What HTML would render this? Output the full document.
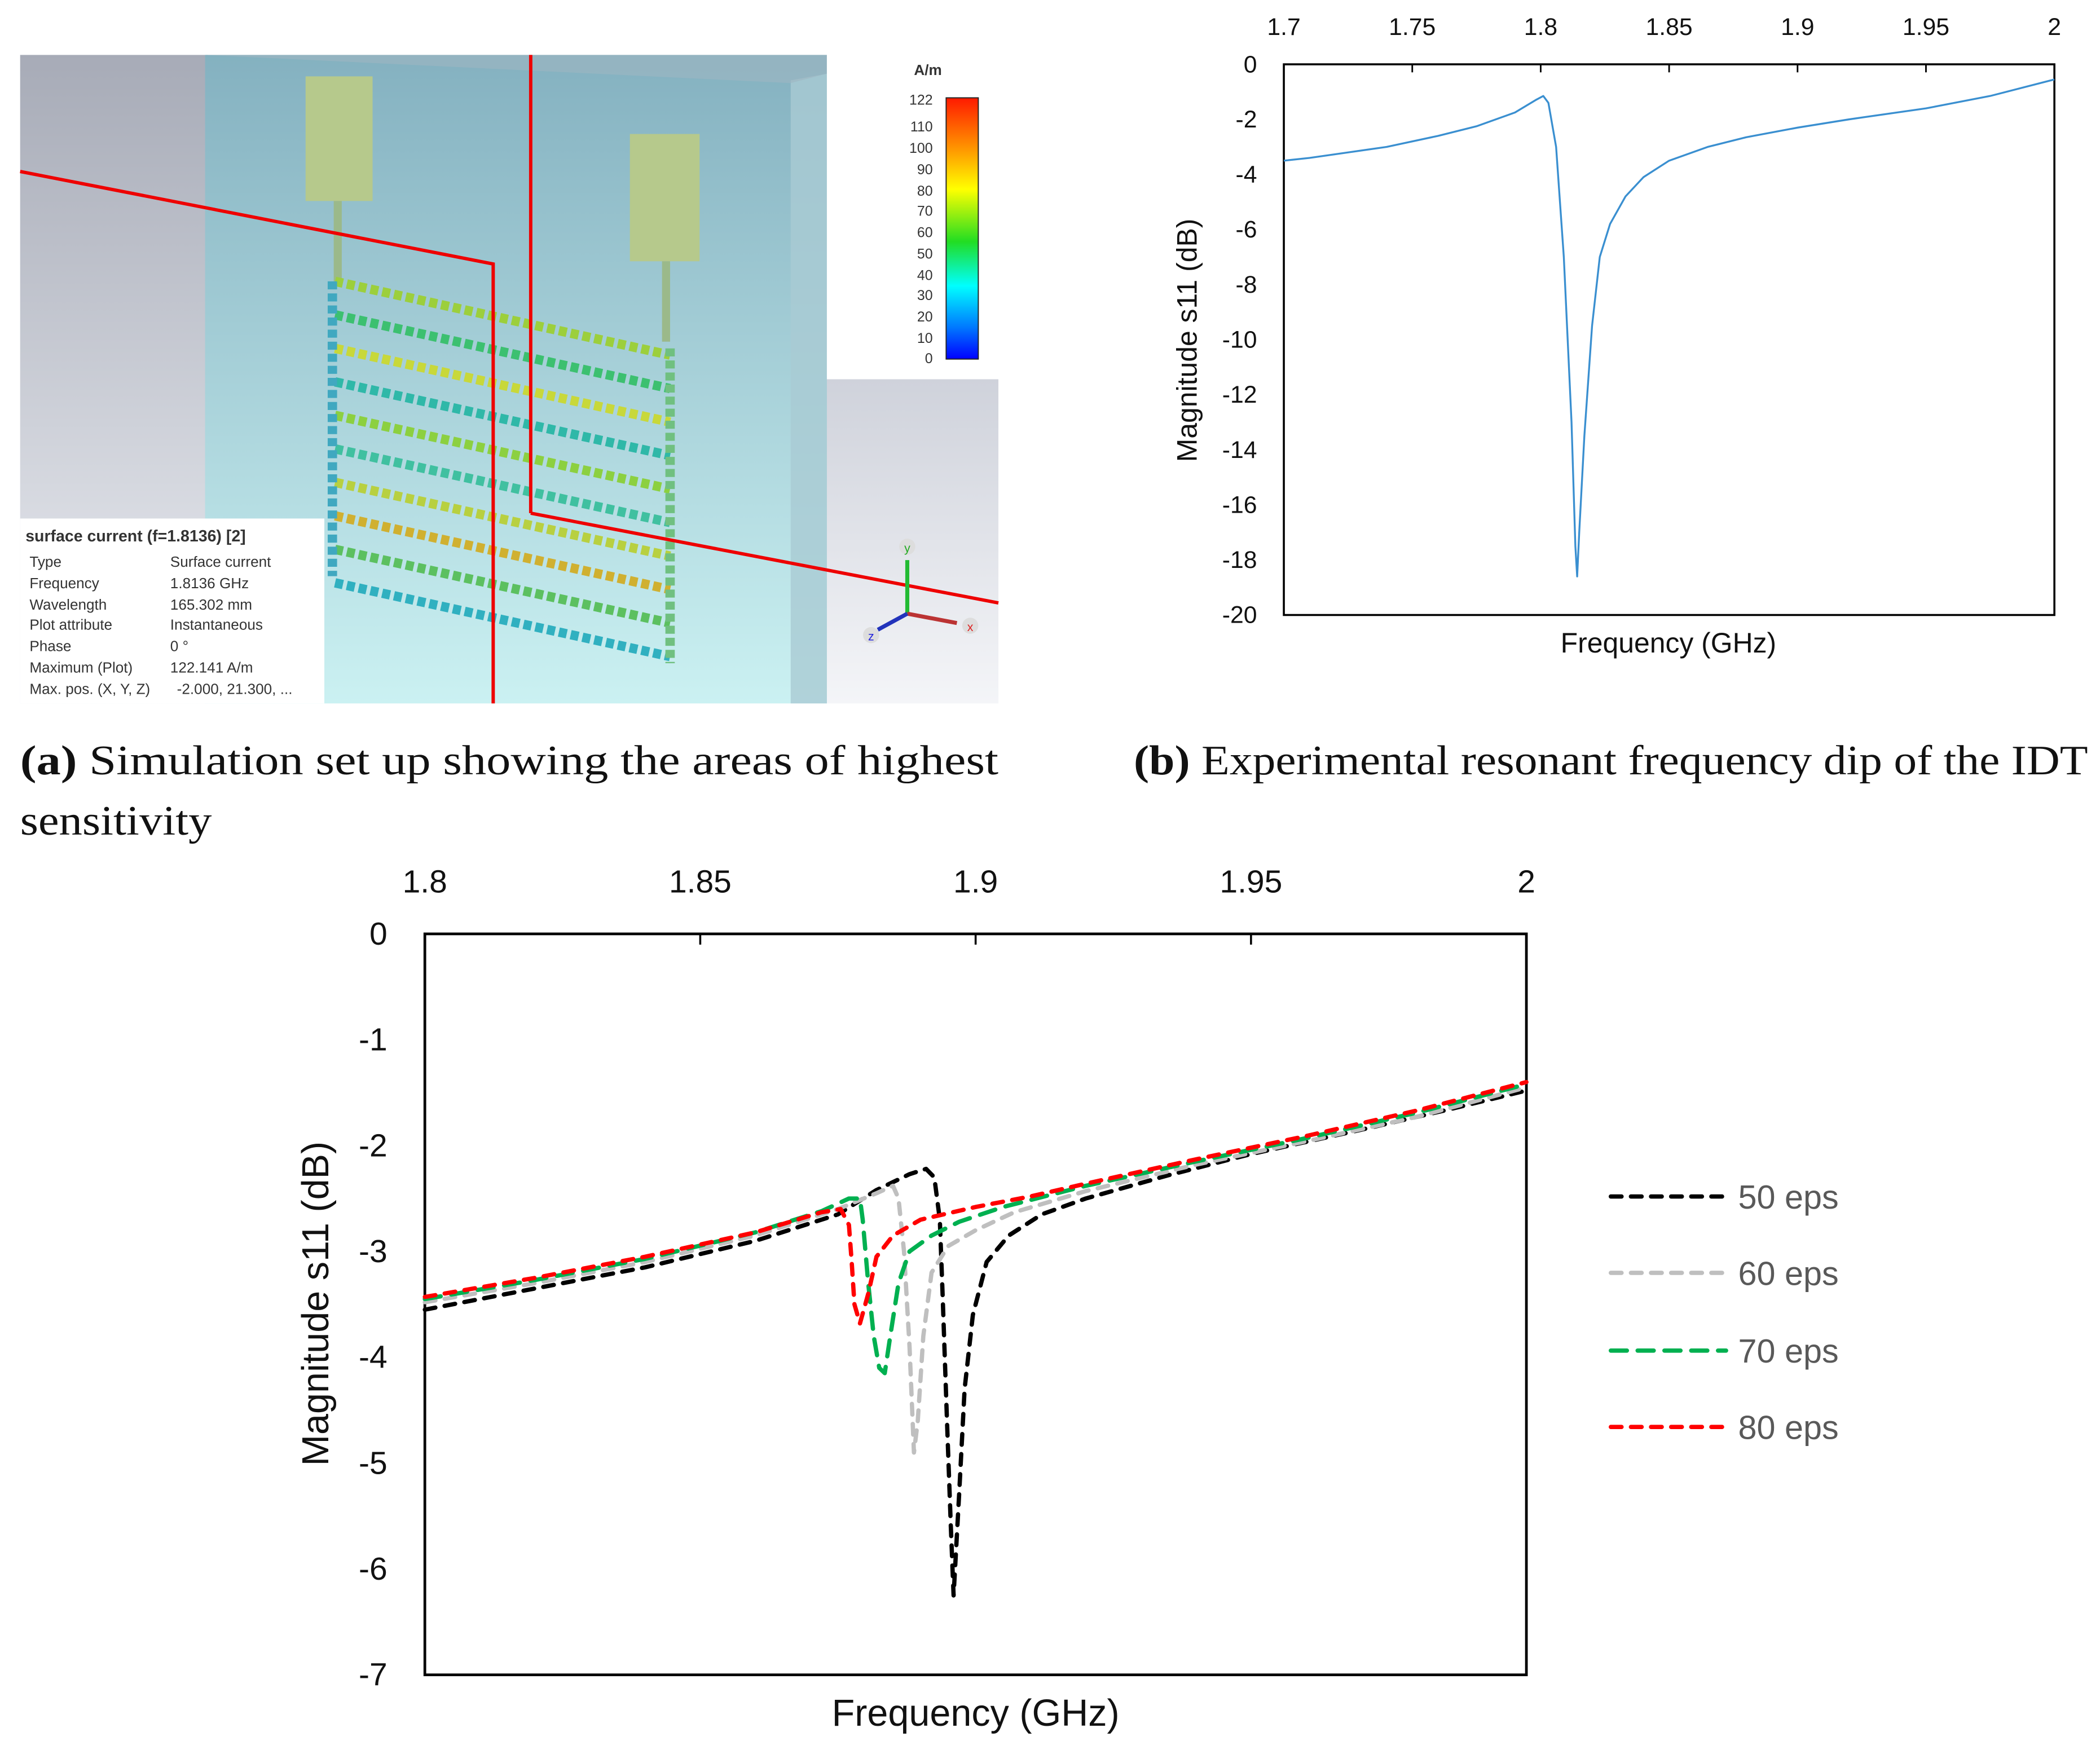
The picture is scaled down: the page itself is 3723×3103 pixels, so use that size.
<!DOCTYPE html>
<html><head><meta charset="utf-8"><style>
html,body{margin:0;padding:0;background:#fff;}
svg{display:block;}
text{font-family:"Liberation Sans",sans-serif;}
.serif{font-family:"Liberation Serif",serif;}
</style></head><body>
<svg id="fig" width="3723" height="3103" viewBox="0 0 1567 1306.1" xmlns="http://www.w3.org/2000/svg">
<defs>
<linearGradient id="gGrey" x1="0" y1="0" x2="0" y2="1"><stop offset="0" stop-color="#a7abb7"/><stop offset="1" stop-color="#eceef3"/></linearGradient>
<linearGradient id="gTeal" x1="0" y1="0" x2="0" y2="1"><stop offset="0" stop-color="#84b1c0"/><stop offset="1" stop-color="#cbf1f2"/></linearGradient>
<linearGradient id="gGrey2" x1="0" y1="0" x2="0" y2="1"><stop offset="0" stop-color="#cfd2db"/><stop offset="1" stop-color="#f4f5f8"/></linearGradient>
<linearGradient id="gBar" x1="0" y1="0" x2="0" y2="1"><stop offset="0" stop-color="#ff1a00"/><stop offset="0.2" stop-color="#ff9900"/><stop offset="0.35" stop-color="#ffff00"/><stop offset="0.55" stop-color="#22dd22"/><stop offset="0.72" stop-color="#00ffff"/><stop offset="0.88" stop-color="#0077ff"/><stop offset="1" stop-color="#0000ff"/></linearGradient>
</defs>

<g>
<rect x="15" y="41" width="140" height="484" fill="url(#gGrey)"/>
<rect x="617" y="283" width="128" height="242" fill="url(#gGrey2)"/>
<rect x="153" y="41" width="464" height="484" fill="url(#gTeal)"/>
<polygon points="590,60 617,55 617,525 590,525" fill="#a9cbd3" opacity="0.8"/>
<polygon points="153,41 617,41 617,55 590,62" fill="#9fb6c2" opacity="0.6"/>
<rect x="228" y="57" width="50" height="93" fill="#b6c98c"/>
<rect x="470" y="100" width="52" height="95" fill="#b6c98c"/>
<rect x="249" y="150" width="6" height="60" fill="#9bb98a"/>
<rect x="494" y="195" width="6" height="60" fill="#9bb98a"/>
<g stroke-width="7" fill="none" stroke-dasharray="6 3">
<path d="M250 210 L500 265" stroke="#9ccf3c"/>
<path d="M250 235 L500 290" stroke="#3cc070"/>
<path d="M250 260 L500 315" stroke="#c8d83a"/>
<path d="M250 285 L500 340" stroke="#2fb8a8"/>
<path d="M250 310 L500 365" stroke="#8cd040"/>
<path d="M250 335 L500 390" stroke="#40c0a0"/>
<path d="M250 360 L500 415" stroke="#b8d040"/>
<path d="M250 385 L500 440" stroke="#d0b030"/>
<path d="M250 410 L500 465" stroke="#5cc060"/>
<path d="M250 435 L500 490" stroke="#30b0c0"/>
<path d="M248 210 L248 430" stroke="#40a8c0"/>
<path d="M500 260 L500 495" stroke="#70c080"/>
</g>
<path d="M15 128 L368 197 L368 525" stroke="#ee0000" stroke-width="2.5" fill="none"/>
<path d="M396 41 L396 383" stroke="#ee0000" stroke-width="2.5"/>
<path d="M396 383 L745 450" stroke="#ee0000" stroke-width="2.5"/>
<rect x="617" y="41" width="128" height="242" fill="#fff"/>
<rect x="706" y="73" width="24" height="195" fill="url(#gBar)" stroke="#222" stroke-width="0.8"/>
<text x="682" y="56" font-size="11" fill="#333" font-weight="bold">A/m</text>
<g font-size="10.5" fill="#333" text-anchor="end">
<text x="696" y="78">122</text><text x="696" y="98">110</text><text x="696" y="114">100</text><text x="696" y="130">90</text><text x="696" y="146">80</text><text x="696" y="161">70</text><text x="696" y="177">60</text><text x="696" y="193">50</text><text x="696" y="209">40</text><text x="696" y="224">30</text><text x="696" y="240">20</text><text x="696" y="256">10</text><text x="696" y="271">0</text>
</g>
<rect x="15" y="387" width="227" height="138" fill="#fff"/>
<g font-size="11" fill="#333">
<text x="19" y="404" font-weight="bold" font-size="12">surface current (f=1.8136) [2]</text>
<text x="22" y="423">Type</text><text x="127" y="423">Surface current</text>
<text x="22" y="439">Frequency</text><text x="127" y="439">1.8136 GHz</text>
<text x="22" y="455">Wavelength</text><text x="127" y="455">165.302 mm</text>
<text x="22" y="470">Plot attribute</text><text x="127" y="470">Instantaneous</text>
<text x="22" y="486">Phase</text><text x="127" y="486">0 °</text>
<text x="22" y="502">Maximum (Plot)</text><text x="127" y="502">122.141 A/m</text>
<text x="22" y="518">Max. pos. (X, Y, Z)</text><text x="132" y="518">-2.000,   21.300,   ...</text>
</g>
<g>
<line x1="677" y1="458" x2="677" y2="418" stroke="#22bb33" stroke-width="3"/>
<line x1="677" y1="458" x2="714" y2="465" stroke="#bb3333" stroke-width="3"/>
<line x1="677" y1="458" x2="655" y2="470" stroke="#2233bb" stroke-width="3"/>
<circle cx="677" cy="408" r="6" fill="#ddd"/><text x="677" y="412" font-size="9" fill="#2a2" text-anchor="middle">y</text>
<circle cx="724" cy="467" r="6" fill="#ddd"/><text x="724" y="471" font-size="9" fill="#d22" text-anchor="middle">x</text>
<circle cx="650" cy="474" r="6" fill="#ddd"/><text x="650" y="478" font-size="9" fill="#22d" text-anchor="middle">z</text>
</g>
</g>
<g class="serif" font-size="31" fill="#111">
<text x="15" y="578" class="serif" textLength="730" lengthAdjust="spacingAndGlyphs"><tspan font-weight="bold">(a)</tspan> Simulation set up showing the areas of highest</text>
<text x="15" y="623" class="serif" textLength="143" lengthAdjust="spacingAndGlyphs">sensitivity</text>
</g>
<text x="846" y="578" class="serif" font-size="31" fill="#111" textLength="712" lengthAdjust="spacingAndGlyphs"><tspan font-weight="bold">(b)</tspan> Experimental resonant frequency dip of the IDT</text>

<g id="chartB"></g>
<g id="chartC"></g>
</svg>
<script>
// ---- Chart B data ----
const bFreq = [1.7,1.71,1.725,1.74,1.76,1.775,1.79,1.798,1.801,1.803,1.806,1.809,1.812,1.8135,1.8142,1.815,1.817,1.82,1.823,1.827,1.833,1.84,1.85,1.865,1.88,1.9,1.92,1.95,1.975,2.0];
const bS11 = [-3.5,-3.4,-3.2,-3.0,-2.6,-2.25,-1.75,-1.3,-1.15,-1.4,-3,-7,-13,-17.5,-18.6,-17,-13.5,-9.5,-7,-5.8,-4.8,-4.1,-3.5,-3.0,-2.65,-2.3,-2.0,-1.6,-1.15,-0.55];
const bXTicks = ["1.7","1.75","1.8","1.85","1.9","1.95","2"];
const bYTicks = ["0","-2","-4","-6","-8","-10","-12","-14","-16","-18","-20"];

// ---- Chart C data ----
const cSeriesNames = ["50 eps","60 eps","70 eps","80 eps"];
const f50 = [1.8,1.82,1.84,1.86,1.875,1.882,1.888,1.891,1.8925,1.8935,1.894,1.8948,1.8955,1.896,1.897,1.898,1.8995,1.902,1.906,1.912,1.92,1.935,1.95,1.97,1.985,2.0];
const s50 = [-3.55,-3.35,-3.15,-2.9,-2.65,-2.42,-2.27,-2.22,-2.3,-2.7,-3.4,-4.6,-5.6,-6.25,-5.3,-4.3,-3.6,-3.1,-2.85,-2.65,-2.5,-2.28,-2.08,-1.85,-1.67,-1.48];
const f60 = [1.8,1.82,1.84,1.86,1.875,1.882,1.885,1.886,1.887,1.888,1.8888,1.8895,1.8905,1.892,1.895,1.9,1.907,1.92,1.94,1.96,1.98,2.0];
const s60 = [-3.48,-3.3,-3.1,-2.85,-2.6,-2.45,-2.38,-2.5,-3.0,-3.9,-4.9,-4.6,-3.8,-3.2,-2.95,-2.8,-2.63,-2.43,-2.18,-1.96,-1.73,-1.45];
const f70 = [1.8,1.82,1.84,1.86,1.872,1.877,1.879,1.8795,1.8805,1.8815,1.8825,1.8835,1.8845,1.886,1.888,1.892,1.897,1.905,1.92,1.94,1.96,1.98,2.0];
const s70 = [-3.45,-3.27,-3.07,-2.82,-2.62,-2.5,-2.5,-2.7,-3.3,-3.8,-4.1,-4.15,-3.8,-3.3,-3.0,-2.85,-2.72,-2.58,-2.38,-2.15,-1.93,-1.69,-1.42];
const f80 = [1.8,1.82,1.84,1.86,1.872,1.8755,1.877,1.8775,1.878,1.879,1.8805,1.882,1.885,1.89,1.9,1.91,1.92,1.94,1.96,1.98,2.0];
const s80 = [-3.43,-3.25,-3.05,-2.82,-2.63,-2.6,-2.75,-3.1,-3.5,-3.68,-3.4,-3.05,-2.85,-2.7,-2.58,-2.48,-2.36,-2.13,-1.91,-1.67,-1.4];
const cXTicks = ["1.8","1.85","1.9","1.95","2"];
const cYTicks = ["0","-1","-2","-3","-4","-5","-6","-7"];

const NS = "http://www.w3.org/2000/svg";
function mk(parent, tag, attrs, txt){
  const e = document.createElementNS(NS, tag);
  for (const k in attrs) e.setAttribute(k, attrs[k]);
  if (txt !== undefined) e.textContent = txt;
  parent.appendChild(e);
  return e;
}
function scale(d0,d1,r0,r1){ return v => r0 + (v-d0)/(d1-d0)*(r1-r0); }

(function(){
  const g = document.getElementById('chartB');
  const L=958,R=1533,T=48,B=459;
  const xs = scale(1.7,2.0,L,R), ys = scale(0,-20,T,B);
  const frame = mk(g,'rect',{x:L,y:T,width:R-L,height:B-T,fill:'none',stroke:'#000','stroke-width':1.5});
  
  
  bXTicks.forEach(t=>{
    const x = xs(parseFloat(t));
    const tk = mk(g,'line',{x1:x,y1:T,x2:x,y2:T+6,stroke:'#000','stroke-width':1.2});
    
    
    const lb = mk(g,'text',{x:x,y:26,'font-size':18,'text-anchor':'middle',fill:'#111'},t);
    
    
  });
  bYTicks.forEach(t=>{
    const y = ys(parseFloat(t));
    const lb = mk(g,'text',{x:938,y:y+6,'font-size':18,'text-anchor':'end',fill:'#111'},t);
    
    
  });
  const yt = mk(g,'text',{x:0,y:0,'font-size':21,'text-anchor':'middle',fill:'#111',transform:'translate(893,254) rotate(-90)'},'Magnitude s11 (dB)');
  
  
  const xt = mk(g,'text',{x:1245,y:487,'font-size':21,'text-anchor':'middle',fill:'#111'},'Frequency (GHz)');
  
  
  const pts = bFreq.map((f,i)=>xs(f).toFixed(2)+','+ys(bS11[i]).toFixed(2)).join(' ');
  const ln = mk(g,'polyline',{points:pts,fill:'none',stroke:'#3a8fd0','stroke-width':1.4,'stroke-linejoin':'round'});
  
  
})();

(function(){
  const g = document.getElementById('chartC');
  const L=317,R=1139,T=697,B=1250;
  const xs = scale(1.8,2.0,L,R), ys = scale(0,-7,T,B);
  const frame = mk(g,'rect',{x:L,y:T,width:R-L,height:B-T,fill:'none',stroke:'#000','stroke-width':2});
  
  
  cXTicks.forEach(t=>{
    const x = xs(parseFloat(t));
    const tk = mk(g,'line',{x1:x,y1:T,x2:x,y2:T+8,stroke:'#000','stroke-width':1.5});
    
    
    const lb = mk(g,'text',{x:x,y:666,'font-size':24,'text-anchor':'middle',fill:'#111'},t);
    
    
  });
  cYTicks.forEach(t=>{
    const y = ys(parseFloat(t));
    const lb = mk(g,'text',{x:289,y:y+8,'font-size':24,'text-anchor':'end',fill:'#111'},t);
    
    
  });
  const yt = mk(g,'text',{x:0,y:0,'font-size':28,'text-anchor':'middle',fill:'#111',transform:'translate(245,973) rotate(-90)'},'Magnitude s11 (dB)');
  
  
  const xt = mk(g,'text',{x:728,y:1288,'font-size':28,'text-anchor':'middle',fill:'#111'},'Frequency (GHz)');
  
  
  const series = [[f50,s50,'#000','8 7'],[f60,s60,'#bfbfbf','8 7'],[f70,s70,'#00b050','12 8'],[f80,s80,'#ff0000','8 7']];
  const legY = [893,950,1008,1065];
  series.forEach((s,i)=>{
    const pts = s[0].map((f,j)=>xs(f).toFixed(2)+','+ys(s[1][j]).toFixed(2)).join(' ');
    const ln = mk(g,'polyline',{points:pts,fill:'none',stroke:s[2],'stroke-width':3.2,'stroke-dasharray':s[3],'stroke-linecap':'round','stroke-linejoin':'round'});
    
    
    const ll = mk(g,'line',{x1:1202,y1:legY[i],x2:1288,y2:legY[i],stroke:s[2],'stroke-width':3.2,'stroke-dasharray':s[3],'stroke-linecap':'round'});
    
    
    const lt = mk(g,'text',{x:1297,y:legY[i]+9,'font-size':25,fill:'#595959'},cSeriesNames[i]);
    
    
  });
})();
</script>
</body></html>
